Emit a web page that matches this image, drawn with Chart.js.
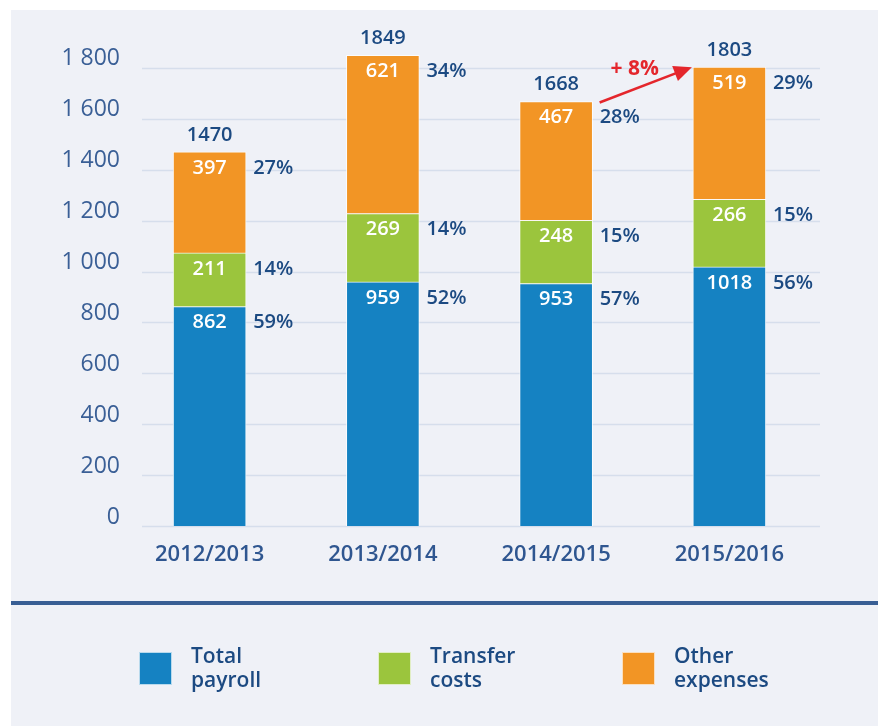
<!DOCTYPE html>
<html>
<head>
<meta charset="utf-8">
<script src="https://cdn.jsdelivr.net/npm/chart.js@4"></script>
<style>
  html, body { margin: 0; padding: 0; background: #fff; }
  #wrap { position: relative; width: 878px; height: 726px; overflow: hidden; }
  #panel { position: absolute; left: 11px; top: 10px; right: 0; bottom: 0; background: #eff1f7; }
  #rule { position: absolute; left: 11px; right: 0; top: 601px; height: 4px; background: #385e94; }
  canvas { position: absolute; left: 0; top: 0; }
</style>
</head>
<body>
<div id="wrap">
  <div id="panel"></div>
  <div id="rule"></div>
  <canvas id="myChart" width="878" height="726"></canvas>
</div>
<script>
var seasons = ['2012/2013', '2013/2014', '2014/2015', '2015/2016'];
var payroll = [862, 959, 953, 1018];
var transfer = [211, 269, 248, 266];
var other = [397, 621, 467, 519];
var totals = [1470, 1849, 1668, 1803];
var payrollPct = [59, 52, 57, 56];
var transferPct = [14, 14, 15, 15];
var otherPct = [27, 34, 28, 29];
var yMax = 1800;
var growthLabel = '+ 8%';

var FONT = '"Open Sans", "DejaVu Sans", sans-serif';
var DARK = '#1c4a82';

function fmt(v) {
  if (v < 1000) return String(v);
  var rest = String(v % 1000);
  while (rest.length < 3) rest = '0' + rest;
  return Math.floor(v / 1000) + ' ' + rest;
}

// grid lines start a bit right of the chart area like in the original
var gridLines = {
  id: 'gridLines',
  beforeDatasetsDraw: function(chart) {
    var ctx = chart.ctx, y = chart.scales.y, a = chart.chartArea;
    ctx.save();
    ctx.strokeStyle = '#d6deec';
    ctx.lineWidth = 1.5;
    y.ticks.forEach(function(t) {
      if (t.value > yMax) return;
      var py = Math.round(y.getPixelForValue(t.value)) + 0.5;
      ctx.beginPath();
      ctx.moveTo(a.left + 19, py);
      ctx.lineTo(a.right + 4, py);
      ctx.stroke();
    });
    ctx.restore();
  }
};

var barLabels = {
  id: 'barLabels',
  afterDatasetsDraw: function(chart) {
    var ctx = chart.ctx;
    ctx.save();
    ctx.textBaseline = 'middle';
    chart.data.datasets.forEach(function(ds, di) {
      var meta = chart.getDatasetMeta(di);
      meta.data.forEach(function(bar, i) {
        ctx.font = '600 20px ' + FONT;
        ctx.fillStyle = '#ffffff';
        ctx.textAlign = 'center';
        ctx.fillText(String(ds.data[i]), bar.x, bar.y + 16);
        ctx.fillStyle = DARK;
        ctx.textAlign = 'left';
        ctx.fillText(ds.pct[i] + '%', bar.x + bar.width / 2 + 7, bar.y + 16);
      });
    });
    // totals above the stack
    var top = chart.getDatasetMeta(chart.data.datasets.length - 1);
    ctx.font = '600 20px ' + FONT;
    ctx.fillStyle = DARK;
    ctx.textAlign = 'center';
    top.data.forEach(function(bar, i) {
      ctx.fillText(String(totals[i]), bar.x, bar.y - 17);
    });

    // growth arrow between the last two seasons
    var b1 = top.data[2], b2 = top.data[3];
    var x1 = b1.x + b1.width / 2 + 7, y1 = b1.y + 1;
    var x2 = b2.x - b2.width / 2 - 1, y2 = b2.y;
    var ang = Math.atan2(y2 - y1, x2 - x1);
    ctx.strokeStyle = '#e4262c';
    ctx.fillStyle = '#e4262c';
    ctx.lineWidth = 2.5;
    ctx.beginPath();
    ctx.moveTo(x1, y1);
    ctx.lineTo(x2 - 14 * Math.cos(ang), y2 - 14 * Math.sin(ang));
    ctx.stroke();
    ctx.beginPath();
    ctx.moveTo(x2, y2);
    ctx.lineTo(x2 - 18 * Math.cos(ang) + 8 * Math.sin(ang), y2 - 18 * Math.sin(ang) - 8 * Math.cos(ang));
    ctx.lineTo(x2 - 18 * Math.cos(ang) - 8 * Math.sin(ang), y2 - 18 * Math.sin(ang) + 8 * Math.cos(ang));
    ctx.closePath();
    ctx.fill();
    var tx = x1 + (x2 - x1) * 0.38;
    var ty = y1 + (y2 - y1) * 0.38 - 20;
    ctx.font = '700 21px ' + FONT;
    ctx.textAlign = 'center';
    ctx.fillText(growthLabel, tx, ty);
    ctx.restore();
  }
};

var legendBoxes = {
  id: 'legendBoxes',
  afterDraw: function(chart) {
    var ctx = chart.ctx;
    var xs = [139, 378, 622];
    ctx.save();
    chart.data.datasets.forEach(function(ds, i) {
      ctx.fillStyle = ds.backgroundColor;
      ctx.fillRect(xs[i], 652, 33, 33);
      ctx.strokeStyle = 'rgba(255,255,255,0.7)';
      ctx.lineWidth = 1;
      ctx.strokeRect(xs[i] + 0.5, 652.5, 32, 32);
      ctx.fillStyle = DARK;
      ctx.font = '600 21px ' + FONT;
      ctx.textAlign = 'left';
      ctx.textBaseline = 'alphabetic';
      ds.label.forEach(function(line, k) {
        ctx.fillText(line, xs[i] + 52, 663 + k * 24);
      });
    });
    ctx.restore();
  }
};

var ctx = document.getElementById('myChart').getContext('2d');
var chart = new Chart(ctx, {
  type: 'bar',
  data: {
    labels: seasons,
    datasets: [{
      label: ['Total', 'payroll'],
      data: payroll,
      pct: payrollPct,
      backgroundColor: '#1582c2'
    },
    {
      label: ['Transfer', 'costs'],
      data: transfer,
      pct: transferPct,
      backgroundColor: '#9bc53d'
    },
    {
      label: ['Other', 'expenses'],
      data: other,
      pct: otherPct,
      backgroundColor: '#f29525'
    }]
  },
  options: {
    responsive: false,
    animation: false,
    layout: { padding: { left: 0, top: 17, right: 62, bottom: 160 } },
    datasets: {
      bar: {
        barThickness: 73,
        borderWidth: 1,
        borderColor: 'rgba(255,255,255,0.75)',
        borderSkipped: 'bottom'
      }
    },
    plugins: {
      legend: { display: false },
      tooltip: { enabled: false }
    },
    scales: {
      x: {
        stacked: true,
        grid: { display: false },
        border: { display: false },
        ticks: { color: '#2f5690', font: { family: FONT, size: 22, weight: '600' }, padding: 8 },
        afterFit: function(s) { s.height = 40; }
      },
      y: {
        stacked: true,
        min: 0,
        max: 2000,
        grid: { display: false, drawTicks: false },
        border: { display: false },
        ticks: {
          stepSize: 200,
          padding: 3,
          labelOffset: -9,
          color: '#3a5f96',
          font: { family: FONT, size: 23, weight: '500' },
          callback: function(v) { return v > yMax ? '' : fmt(v); }
        },
        afterFit: function(s) { s.width = 123; }
      }
    }
  },
  plugins: [gridLines, barLabels, legendBoxes]
});
</script>
</body>
</html>
